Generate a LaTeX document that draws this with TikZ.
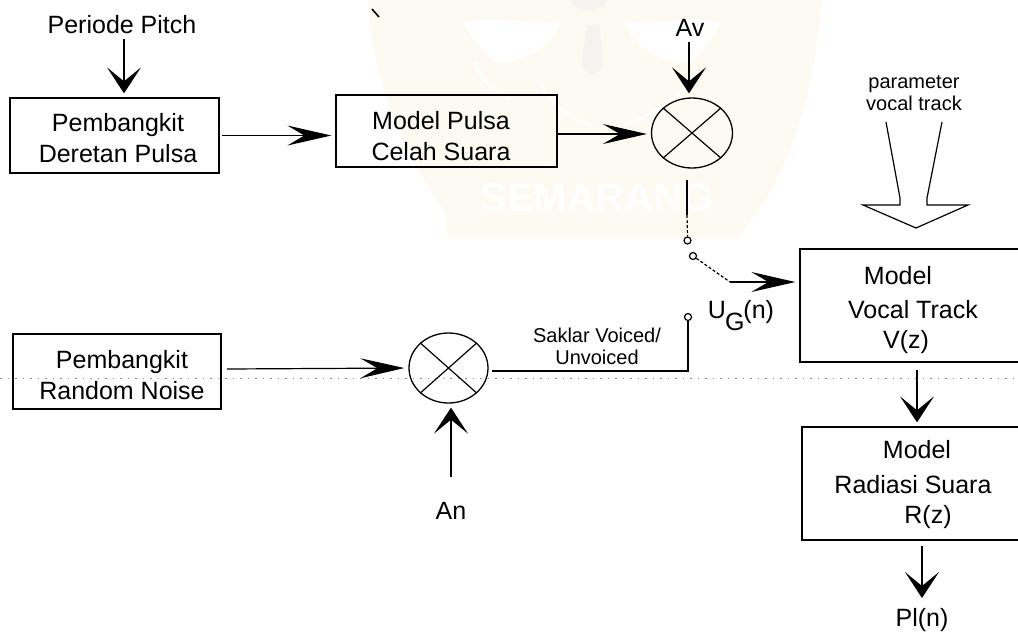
\documentclass[tikz,border=0pt]{standalone}
\usepackage{fontspec}
\setmainfont{Liberation Sans}
\usetikzlibrary{arrows.meta,shapes.geometric}
\definecolor{tint}{HTML}{FCFAF1}
\definecolor{tintgrey}{HTML}{F4F3EE}
\tikzset{
  x=1pt,y=-1pt,
  blk/.style={draw,line width=1.3pt,inner sep=0pt},
  lbl/.style={inner sep=0pt,align=center,font=\fontsize{25}{31}\selectfont},
  small/.style={inner sep=0pt,align=center,font=\fontsize{20}{22}\selectfont},
  wire/.style={line width=1.2pt},
  varr/.style={line width=1.2pt,-{Stealth[length=26pt,width=34pt,inset=14pt]},shorten >=4pt,shorten <=5pt},
  harr/.style={line width=1.2pt,-{Stealth[length=44pt,width=20pt,inset=17pt]},shorten >=4pt},
  mix/.style={draw,line width=1.3pt,ellipse,inner sep=0pt},
  tap/.style={draw,circle,line width=1.2pt,minimum size=7pt,inner sep=0pt},
  switchdash/.style={line width=1.2pt,dash pattern=on 3pt off 2pt}
}
\begin{document}
\begin{tikzpicture}
\useasboundingbox (0,0) rectangle (1018,633);
% faint watermark
\fill[tint] (368,0) .. controls (372,70) and (395,140) .. (445,212) -- (447,238) -- (737,238)
  .. controls (790,180) and (815,90) .. (822,0) -- cycle;
\fill[white] (463,22) .. controls (490,15) and (540,25) .. (560,22) .. controls (550,50) and (520,65) .. (495,62) .. controls (480,50) and (470,35) .. (463,22) -- cycle;
\fill[white] (720,22) .. controls (690,15) and (650,25) .. (625,22) .. controls (635,50) and (665,65) .. (690,62) .. controls (705,50) and (715,35) .. (720,22) -- cycle;
\fill[tintgrey] (570,0) .. controls (575,14) and (602,14) .. (607,0) -- cycle;
\fill[tintgrey] (587,25) .. controls (586,45) and (578,60) .. (585,70) .. controls (590,76) and (600,74) .. (602,66) .. controls (604,50) and (600,40) .. (600,25) -- cycle;
\draw[white,line width=3pt] (475,62) .. controls (480,80) and (495,90) .. (510,100)
  (540,80) .. controls (545,100) and (570,120) .. (592,125)
  (690,80) .. controls (680,100) and (650,115) .. (625,125);
\node[inner sep=0pt,text=white,font=\fontsize{40}{40}\selectfont\bfseries] (wm) at (597,198) {SEMARANG};
% scan streak
\draw[line width=0.6pt,black!45,dash pattern=on 1.5pt off 6pt] (0,378.5) -- (1018,378.5);
% boxes
\node[blk,minimum width=209pt,minimum height=75pt] (pd) at (114.5,135.5) {};
\node[blk,minimum width=221pt,minimum height=72pt] (mp) at (446.5,131) {};
\node[blk,minimum width=208pt,minimum height=75pt] (rn) at (117,371.5) {};
\node[blk,minimum width=230pt,minimum height=113pt] (vt) at (915,305.5) {};
\node[blk,minimum width=230pt,minimum height=113pt] (rs) at (917,483.5) {};
% mixers
\node[mix,minimum width=81pt,minimum height=70pt] (m1) at (692,133) {};
\draw[line width=1.2pt] (m1.north west)--(m1.south east) (m1.north east)--(m1.south west);
\node[mix,minimum width=79pt,minimum height=70pt] (m2) at (448.5,368) {};
\draw[line width=1.2pt] (m2.north west)--(m2.south east) (m2.north east)--(m2.south west);
% texts
\node[lbl] (tpd) at (118,138) {Pembangkit\\Deretan Pulsa};
\node[lbl] (tmp) at (441,136) {Model Pulsa\\Celah Suara};
\node[lbl] (trn) at (122,375) {Pembangkit\\Random Noise};
\node[lbl] (pp) at (122,25) {Periode Pitch};
\node[lbl] (av) at (690,28) {Av};
\node[lbl] (an) at (451,511) {An};
\node[small] (pv) at (914,93) {parameter\\vocal track};
\node[small] (sk) at (597,346) {Saklar Voiced/\\Unvoiced};
\node[lbl] (ug) at (741,316) {U\kern-1pt\raisebox{-12pt}{G}\kern-1pt(n)};
\node[lbl] (pl) at (922,620) {Pl(n)};
\node[lbl] (t1) at (898,276) {Model};
\node[lbl] (t2) at (913,310) {Vocal Track};
\node[lbl] (t3) at (906,342) {V(z)};
\node[lbl] (r1) at (917,450) {Model};
\node[lbl] (r2) at (913,485) {Radiasi Suara};
\node[lbl] (r3) at (928,517) {R(z)};
% switch contacts
\node[tap] (c1) at (687.5,240.5) {};
\node[tap] (c2) at (693,256) {};
\node[tap] (c3) at (688,317) {};
\coordinate (bend) at (730,282);
% connectors
\draw[varr] (pp.south -| 124,0) -- (pd.north -| 124,0);
\draw[harr] (pd.east -| 222,0) -- (pd.east -| mp.west);
\draw[harr] ([yshift=-3pt]mp.east) -- ([yshift=-3pt]mp.east -| m1.west);
\draw[varr] (av.south -| 689,0) -- (m1.north -| 689,0);
\draw[harr] (227,369) -- (m2.west);
\draw[varr] (451,482) -- (m2.south -| 451,0);
\draw[wire] (687,180) -- (687,215);
\draw[line width=1.2pt,dash pattern=on 3pt off 2pt] (687,215) -- (c1.north);
\draw[switchdash] (c2) -- (bend);
\draw[harr] (bend) -- (bend -| vt.west);
\draw[wire] (c3.south) |- (492,371);
\draw[line width=2pt] (492,370.5) -- (545,370.5);
\draw[varr] (917,365) -- (rs.north -| 917,0);
\draw[varr] (rs.south -| 922,0) -- (922,602);
% hollow arrow
\draw[line width=1.2pt,line join=miter]
  (886,122) -- (900,198) -- (900,205) -- (863,205) -- (916,228) -- (968,205) -- (927,205) -- (927,198) -- (942,122);
% speck
\draw[line width=1.6pt] (372,9) -- (379,17);
\end{tikzpicture}
\end{document}
